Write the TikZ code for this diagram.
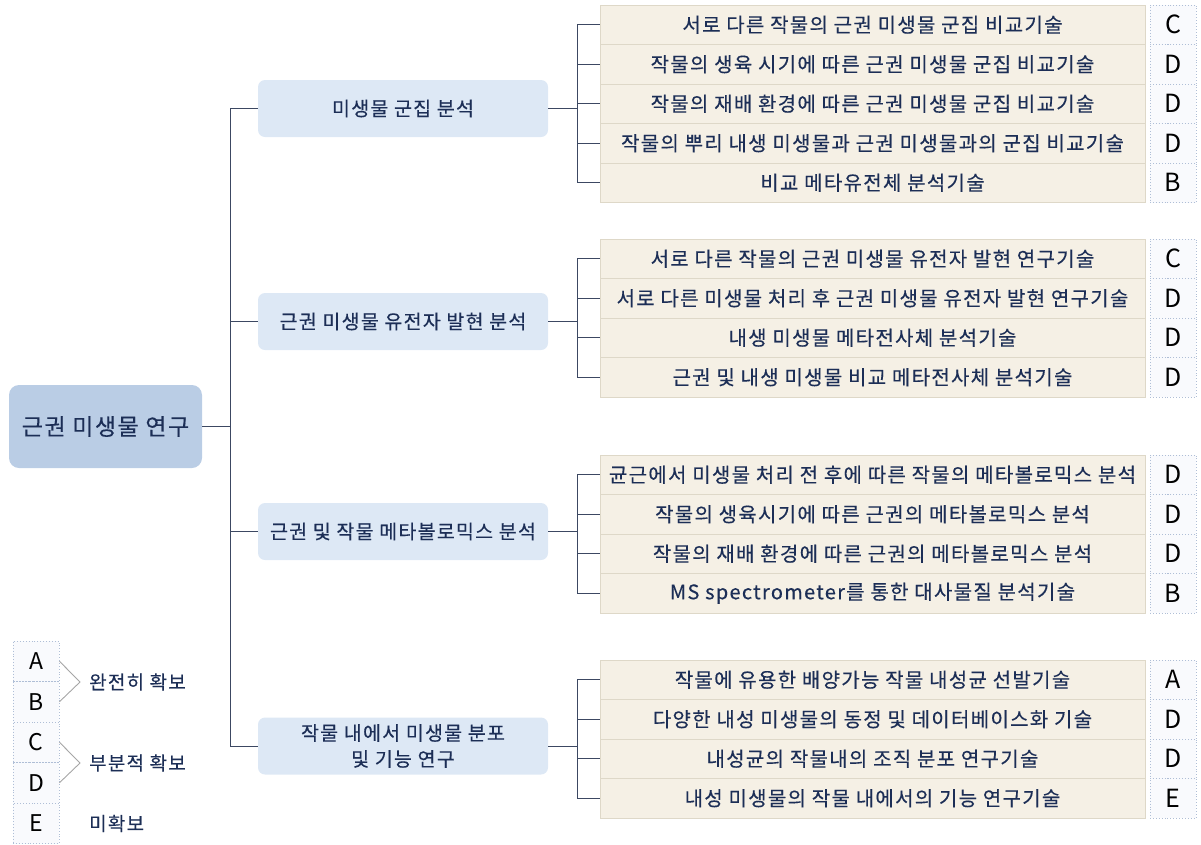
\documentclass[tikz,border=0pt]{standalone}
\usepackage{fontspec}
\setmainfont{Noto Sans CJK KR}[LetterSpace=6.5,FakeBold=0.3]
\newfontfamily\gradefont{Noto Sans CJK KR}
\definecolor{navy}{RGB}{28,46,86}
\definecolor{rootfill}{RGB}{186,205,229}
\definecolor{lvfill}{RGB}{221,232,245}
\definecolor{leaffill}{RGB}{245,240,229}
\definecolor{leafdraw}{RGB}{222,216,200}
\definecolor{gradedraw}{RGB}{175,190,214}
\definecolor{gradefill}{RGB}{249,250,253}
\definecolor{linecol}{RGB}{60,72,98}
\tikzset{
  rootbox/.style={draw=none, fill=rootfill, rounded corners=10pt, minimum width=193pt, minimum height=83pt, inner sep=0pt, text=navy, font=\fontsize{23}{27}\selectfont},
  lvbox/.style={draw=none, fill=lvfill, rounded corners=7pt, minimum width=290pt, minimum height=57pt, inner sep=0pt, text=navy, align=center, font=\fontsize{19.5}{27}\selectfont},
  leafbox/.style={draw=leafdraw, line width=0.8pt, fill=leaffill, minimum width=545pt, minimum height=39.5pt, inner sep=0pt, text=navy, font=\fontsize{20}{22}\selectfont},
  gradebox/.style={draw=gradedraw, dotted, line width=0.9pt, fill=gradefill, minimum width=46pt, minimum height=39.5pt, inner sep=0pt, text=black, font=\gradefont\fontsize{25}{27}\selectfont},
  legbox/.style={draw=gradedraw, dotted, line width=0.9pt, fill=gradefill, minimum width=46pt, minimum height=40.5pt, inner sep=0pt, text=black, font=\gradefont\fontsize{23}{25}\selectfont},
  legtext/.style={anchor=west, text=navy, inner sep=0pt, font=\fontsize{19}{22}\selectfont},
  conn/.style={draw=linecol, line width=1pt},
  chev/.style={draw=gray!70, line width=0.9pt}
}
\begin{document}
\begin{tikzpicture}[x=1pt,y=-1pt]
\useasboundingbox (0,0) rectangle (1201,844);
% root
\node[rootbox] (root) at (105.5,426.5) {근권 미생물 연구};
\coordinate (trunkc) at (230,426.5);
% level-1
\node[lvbox] (l1) at (403,108.5) {미생물 군집 분석};
\node[lvbox] (l2) at (403,321.5) {근권 미생물 유전자 발현 분석};
\node[lvbox] (l3) at (403,531.5) {근권 및 작물 메타볼로믹스 분석};
\node[lvbox] (l4) at (403,746) {작물 내에서 미생물 분포\\[-1pt]및 기능 연구};
\coordinate (t1) at (230,108.5);
\coordinate (t4) at (230,746);
\draw[conn] (root.east) -- (trunkc);
\draw[conn] (t1) -- (t4);
\foreach \i in {1,2,3,4} { \draw[conn] (l\i.west) -- (l\i.west -| trunkc); }
% group 1
\foreach \t [count=\k] in {서로 다른 작물의 근권 미생물 군집 비교기술,작물의 생육 시기에 따른 근권 미생물 군집 비교기술,작물의 재배 환경에 따른 근권 미생물 군집 비교기술,작물의 뿌리 내생 미생물과 근권 미생물과의 군집 비교기술,비교 메타유전체 분석기술} {
  \node[leafbox] (a\k) at (872.5,{5+39.5*(\k-0.5)}) {\t};
}
\foreach \g [count=\k] in {C,D,D,D,B} { \node[gradebox] (ga\k) at (1173,{5+39.5*(\k-0.5)}) {\g}; }
% group 2
\foreach \t [count=\k] in {서로 다른 작물의 근권 미생물 유전자 발현 연구기술,서로 다른 미생물 처리 후 근권 미생물 유전자 발현 연구기술,내생 미생물 메타전사체 분석기술,근권 및 내생 미생물 비교 메타전사체 분석기술} {
  \node[leafbox] (b\k) at (872.5,{239+39.5*(\k-0.5)}) {\t};
}
\foreach \g [count=\k] in {C,D,D,D} { \node[gradebox] (gb\k) at (1173,{239+39.5*(\k-0.5)}) {\g}; }
% group 3
\foreach \t [count=\k] in {균근에서 미생물 처리 전 후에 따른 작물의 메타볼로믹스 분석,작물의 생육시기에 따른 근권의 메타볼로믹스 분석,작물의 재배 환경에 따른 근권의 메타볼로믹스 분석,MS spectrometer를 통한 대사물질 분석기술} {
  \node[leafbox] (c\k) at (872.5,{455+39.5*(\k-0.5)}) {\t};
}
\foreach \g [count=\k] in {D,D,D,B} { \node[gradebox] (gc\k) at (1173,{455+39.5*(\k-0.5)}) {\g}; }
% group 4
\foreach \t [count=\k] in {작물에 유용한 배양가능 작물 내성균 선발기술,다양한 내성 미생물의 동정 및 데이터베이스화 기술,내성균의 작물내의 조직 분포 연구기술,내성 미생물의 작물 내에서의 기능 연구기술} {
  \node[leafbox] (d\k) at (872.5,{660+39.5*(\k-0.5)}) {\t};
}
\foreach \g [count=\k] in {A,D,D,E} { \node[gradebox] (gd\k) at (1173,{660+39.5*(\k-0.5)}) {\g}; }
% branch lines
\coordinate (bx) at (577,0);
\draw[conn] (a1.west -| bx) -- (a5.west -| bx);
\draw[conn] (b1.west -| bx) -- (b4.west -| bx);
\draw[conn] (c1.west -| bx) -- (c4.west -| bx);
\draw[conn] (d1.west -| bx) -- (d4.west -| bx);
\foreach \i in {1,...,5} { \draw[conn] (a\i.west -| bx) -- (a\i.west); }
\foreach \p in {b,c,d} { \foreach \i in {1,...,4} { \draw[conn] (\p\i.west -| bx) -- (\p\i.west); } }
\foreach \i in {1,2,3,4} { \draw[conn] (l\i.east) -- (l\i.east -| bx); }
% legend
\foreach \g [count=\k] in {A,B,C,D,E} { \node[legbox] (lg\k) at (36,{641+40.5*(\k-0.5)}) {\g}; }
\coordinate (cv1) at (80,682);
\coordinate (cv2) at (80,763);
\draw[chev] (lg1.east) -- (cv1) -- (lg2.east);
\draw[chev] (lg3.east) -- (cv2) -- (lg4.east);
\node[legtext] (lt1) at (89,682) {완전히 확보};
\node[legtext] (lt2) at (89,763) {부분적 확보};
\node[legtext] (lt3) at (89,823.5) {미확보};
\end{tikzpicture}
\end{document}
